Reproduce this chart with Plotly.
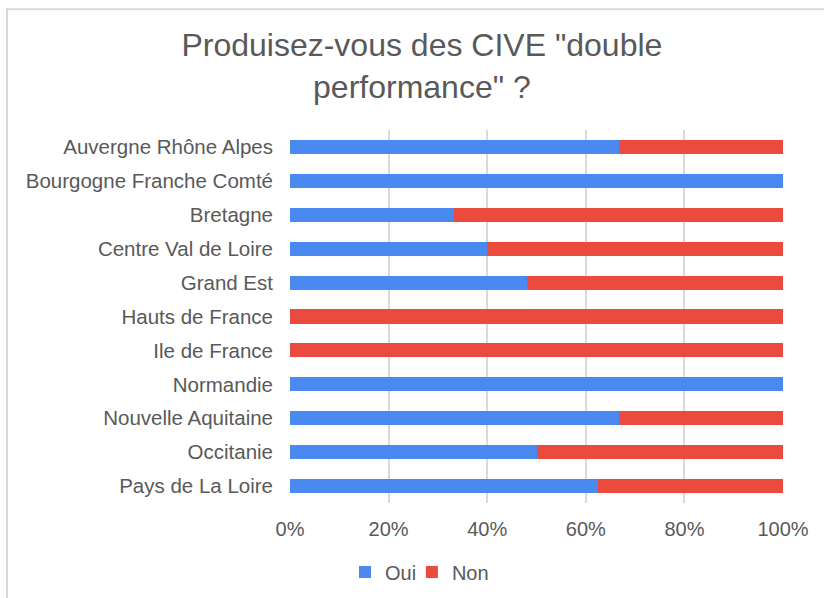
import plotly.graph_objects as go

regions = [
    "Auvergne Rhône Alpes",
    "Bourgogne Franche Comté",
    "Bretagne",
    "Centre Val de Loire",
    "Grand Est",
    "Hauts de France",
    "Ile de France",
    "Normandie",
    "Nouvelle Aquitaine",
    "Occitanie",
    "Pays de La Loire",
]
oui = [0.667, 1.0, 0.333, 0.40, 0.48, 0.0, 0.0, 1.0, 0.667, 0.50, 0.625]
non = [0.333, 0.0, 0.667, 0.60, 0.52, 1.0, 1.0, 0.0, 0.333, 0.50, 0.375]
tick_vals = [0, 0.2, 0.4, 0.6, 0.8, 1.0]
tick_text = ["0%", "20%", "40%", "60%", "80%", "100%"]

FONT = "Liberation Sans, Arial, sans-serif"
GREY = "#595959"

fig = go.Figure()
fig.add_trace(go.Bar(y=regions, x=oui, name="Oui", orientation="h", legend="legend",
                     showlegend=True,
                     marker=dict(color="#4a8af0", line=dict(width=0)), width=0.415))
fig.add_trace(go.Bar(y=regions, x=non, name="Non", orientation="h", legend="legend2",
                     showlegend=True,
                     marker=dict(color="#ea4b3e", line=dict(width=0)), width=0.415))

legend_common = dict(orientation="h", xanchor="left", xref="container",
                     y=0.0435, yanchor="middle", yref="container",
                     font=dict(size=20, color=GREY), itemwidth=30,
                     bgcolor="rgba(0,0,0,0)", visible=True)

fig.update_layout(
    width=824, height=598,
    showlegend=True,
    barmode="stack",
    paper_bgcolor="white", plot_bgcolor="white",
    margin=dict(l=290, r=41, t=130, b=95, autoexpand=False),
    font=dict(family=FONT, color=GREY, size=20),
    title=dict(text='Produisez-vous des CIVE "double<br>performance" ?',
               x=0.512, xanchor="center", xref="container",
               y=0.906, yanchor="top", yref="container",
               font=dict(size=32, color=GREY, family=FONT)),
    xaxis=dict(range=[0, 1], tickvals=tick_vals, ticktext=tick_text,
               showgrid=True, gridcolor="#d9d9d9", gridwidth=1.5,
               zeroline=False, showline=False, ticks="", automargin=False,
               ticklabelstandoff=12,
               tickfont=dict(size=20, color=GREY)),
    yaxis=dict(categoryorder="array", categoryarray=regions, autorange="reversed",
               showgrid=False, zeroline=False, showline=False, ticks="", automargin=False,
               ticklabelstandoff=16,
               tickfont=dict(size=20.5, color=GREY)),
    legend=dict(x=0.4187, **legend_common),
    legend2=dict(x=0.4999, **legend_common),
    shapes=[dict(type="rect", xref="paper", yref="paper",
                 x0=-0.574, x1=2.0, y0=-1.0, y1=1.324,
                 line=dict(color="#d9d9d9", width=2), layer="below")],
)

fig.write_html("out.html", config={"displayModeBar": False},
               post_script="document.body.style.margin='0';")
